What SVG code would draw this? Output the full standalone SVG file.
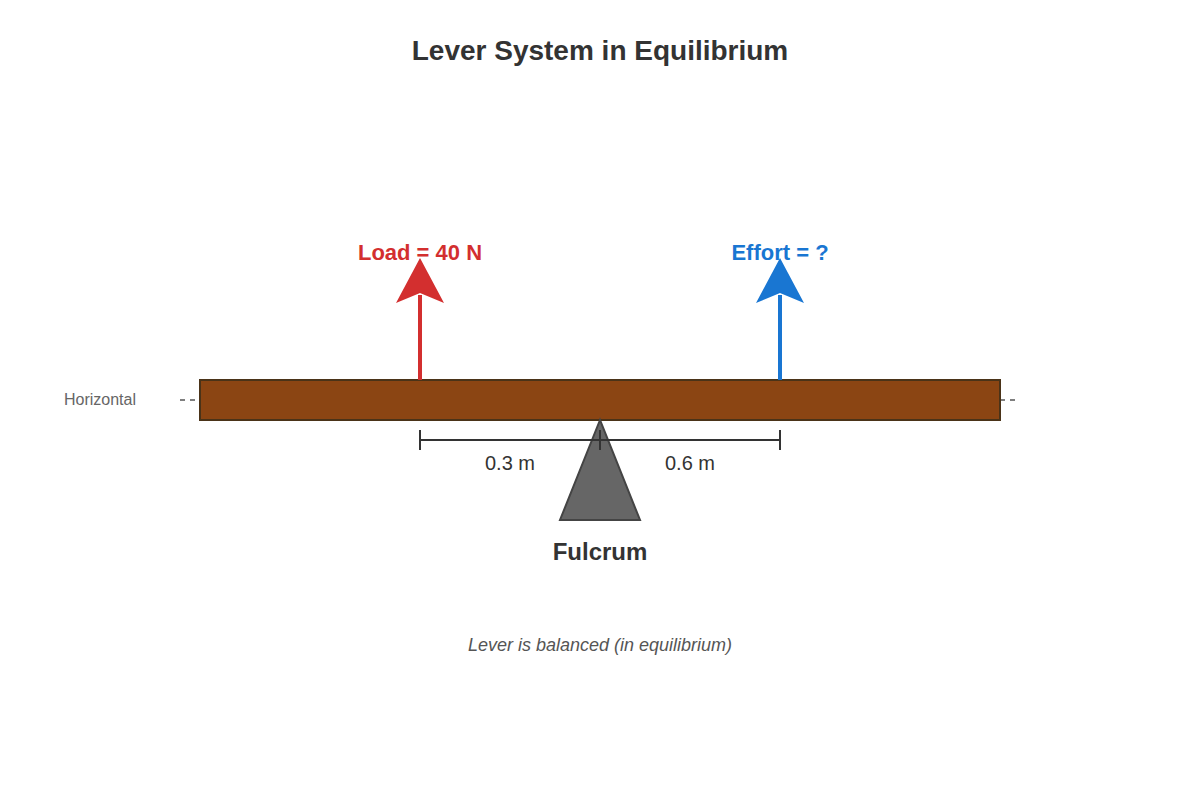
<svg xmlns="http://www.w3.org/2000/svg" width="1200" height="800" viewBox="0 0 1200 800">
<style>
text{font-family:"Liberation Sans",Arial,sans-serif;text-anchor:middle}
.dim{stroke:#333;stroke-width:2;fill:none}
</style>
<rect width="1200" height="800" fill="#fff"/>
<text x="600" y="60" font-size="28" font-weight="bold" fill="#333">Lever System in Equilibrium</text>
<g id="horizontal">
<line x1="180" y1="400" x2="1015" y2="400" stroke="#555" stroke-width="1.5" stroke-dasharray="5,5"/>
<text x="100" y="405" font-size="16" fill="#666">Horizontal</text>
</g>
<g id="beam"><rect x="200" y="380" width="800" height="40" fill="#8B4513" stroke="#4a3318" stroke-width="2"/></g>
<g id="fulcrum">
<polygon points="600,420 560,520 640,520" fill="#666" stroke="#444" stroke-width="2"/>
<text x="600" y="560" font-size="24" font-weight="bold" fill="#333">Fulcrum</text>
</g>
<g id="connectors">
<line x1="420" y1="380" x2="420" y2="295" stroke="#d32f2f" stroke-width="4"/>
<polygon points="420,258 444,303 420,293 396,303" fill="#d32f2f"/>
<line x1="780" y1="380" x2="780" y2="295" stroke="#1976d2" stroke-width="4"/>
<polygon points="780,258 804,303 780,293 756,303" fill="#1976d2"/>
<line class="dim" x1="420" y1="440" x2="780" y2="440"/>
<line class="dim" x1="420" y1="430" x2="420" y2="450"/>
<line class="dim" x1="600" y1="430" x2="600" y2="450"/>
<line class="dim" x1="780" y1="430" x2="780" y2="450"/>
</g>
<g id="load"><text x="420" y="260" font-size="22" font-weight="bold" fill="#d32f2f">Load = 40 N</text></g>
<g id="effort"><text x="780" y="260" font-size="22" font-weight="bold" fill="#1976d2">Effort = ?</text></g>
<text x="510" y="470" font-size="20" fill="#333">0.3 m</text>
<text x="690" y="470" font-size="20" fill="#333">0.6 m</text>
<text x="600" y="651" font-size="18" font-style="italic" fill="#555">Lever is balanced (in equilibrium)</text>
</svg>
